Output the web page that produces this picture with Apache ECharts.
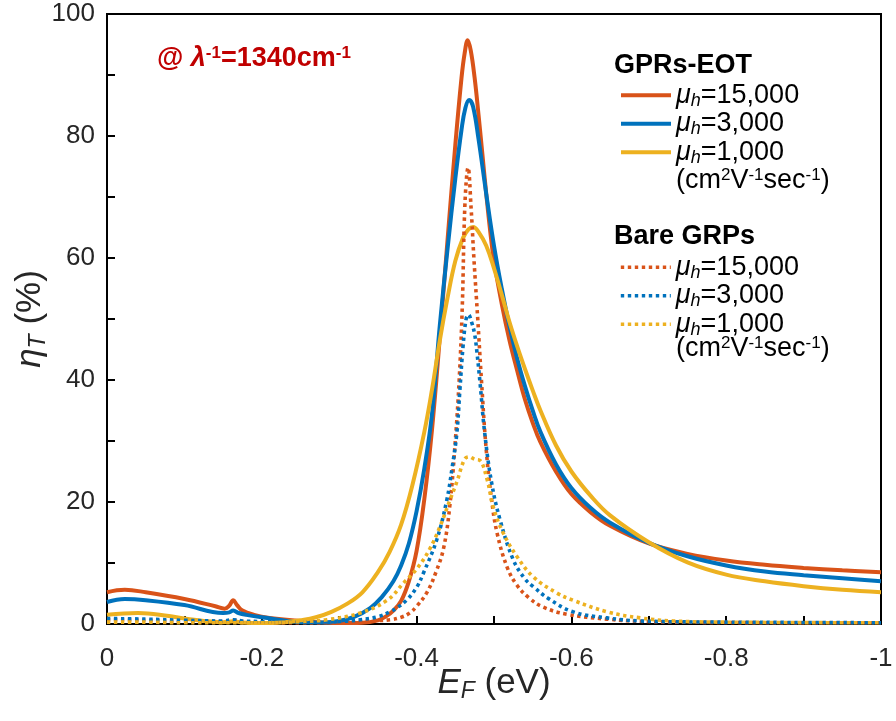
<!DOCTYPE html>
<html>
<head>
<meta charset="utf-8">
<script src="https://cdn.jsdelivr.net/npm/echarts@6/dist/echarts.min.js"></script>
<style>
html,body{margin:0;padding:0;background:#fff;}
#c{width:896px;height:721px;}
</style>
</head>
<body>
<div id="c"></div>
<script>
// ---- Data (E_F in eV, eta_T in %) ----
// GPRs-EOT, mu_h = 15,000
const eGpr15000 = [0,-0.023,-0.05,-0.1,-0.14,-0.152,-0.158,-0.163,-0.168,-0.175,-0.19,-0.21,-0.25,-0.3,-0.33,-0.35,-0.36,-0.37,-0.38,-0.39,-0.4,-0.41,-0.42,-0.43,-0.44,-0.45,-0.458,-0.462,-0.466,-0.47,-0.475,-0.48,-0.485,-0.49,-0.495,-0.5,-0.51,-0.52,-0.53,-0.54,-0.55,-0.56,-0.58,-0.6,-0.625,-0.65,-0.7,-0.75,-0.8,-0.85,-0.9,-0.95,-1];
const vGpr15000 = [5.2,5.6,5.2,4.1,2.9,2.5,3.0,3.9,3.1,2.2,1.5,1.0,0.5,0.15,0.2,0.6,1.2,2.2,3.8,7.0,12.0,20.5,32,47,63,78.5,89.5,93.5,95.7,94.0,89.5,83.5,77,70.5,64.5,59.5,52.5,46.5,41.5,36.8,33,29.8,25.0,21.3,18.3,16.1,13.2,11.5,10.4,9.7,9.2,8.8,8.5];
// GPRs-EOT, mu_h = 3,000
const eGpr3000 = [0,-0.023,-0.05,-0.1,-0.15,-0.158,-0.163,-0.17,-0.18,-0.2,-0.25,-0.28,-0.3,-0.32,-0.34,-0.355,-0.37,-0.38,-0.39,-0.4,-0.41,-0.42,-0.43,-0.44,-0.45,-0.458,-0.463,-0.468,-0.473,-0.48,-0.49,-0.5,-0.51,-0.52,-0.53,-0.54,-0.55,-0.56,-0.58,-0.6,-0.625,-0.65,-0.7,-0.75,-0.8,-0.85,-0.9,-0.95,-1];
const vGpr3000 = [3.6,4.1,3.9,3.1,1.8,1.9,2.2,1.8,1.5,1.1,0.3,0.25,0.5,1.2,2.6,4.4,7.0,9.6,13.2,18.5,25.5,34.5,49,61.5,73,81,84.6,85.9,84.8,79.5,70.5,62,55,48.8,43.5,39,35,31.5,26.2,22.3,19.0,16.6,13.3,11.1,9.6,8.6,8.0,7.5,7.0];
// GPRs-EOT, mu_h = 1,000
const eGpr1000 = [0,-0.04,-0.08,-0.1,-0.15,-0.163,-0.175,-0.2,-0.23,-0.25,-0.27,-0.29,-0.31,-0.33,-0.35,-0.365,-0.38,-0.395,-0.41,-0.42,-0.43,-0.44,-0.45,-0.46,-0.467,-0.473,-0.48,-0.49,-0.5,-0.51,-0.52,-0.53,-0.54,-0.55,-0.56,-0.58,-0.6,-0.625,-0.65,-0.7,-0.75,-0.8,-0.85,-0.9,-0.95,-1];
const vGpr1000 = [1.5,1.8,1.3,0.9,0.3,0.45,0.25,0.15,0.3,0.6,1.1,2.0,3.3,5.2,8.5,11.8,16.3,23,31.5,38.5,46.5,53.5,59.5,63.3,64.7,65.1,64.3,62,58.3,54,49.5,45.5,41.8,38.3,35,29.3,25.0,21,17.8,13.4,10.1,8.1,7.0,6.2,5.6,5.2];
// Bare GRPs, mu_h = 15,000
const eBare15000 = [0,-0.05,-0.1,-0.15,-0.163,-0.175,-0.2,-0.25,-0.3,-0.34,-0.366,-0.38,-0.391,-0.4,-0.413,-0.425,-0.435,-0.443,-0.45,-0.455,-0.459,-0.4625,-0.4665,-0.4705,-0.474,-0.479,-0.484,-0.49,-0.497,-0.504,-0.517,-0.53,-0.545,-0.563,-0.594,-0.646,-0.7,-0.8,-0.9,-1];
const vBare15000 = [0.7,0.6,0.4,0.4,0.6,0.4,0.3,0.2,0.3,0.5,0.7,1.1,1.8,2.9,5.1,8.5,12.5,19.5,30,40,52,69,74.8,68,60,50,39.5,28.5,20.3,14.9,9.3,6.3,4.3,2.8,1.6,0.8,0.4,0.25,0.2,0.2];
// Bare GRPs, mu_h = 3,000
const eBare3000 = [0,-0.05,-0.1,-0.15,-0.163,-0.175,-0.2,-0.25,-0.3,-0.327,-0.35,-0.366,-0.375,-0.387,-0.4,-0.409,-0.426,-0.439,-0.446,-0.452,-0.456,-0.46,-0.464,-0.467,-0.471,-0.475,-0.478,-0.482,-0.488,-0.497,-0.508,-0.525,-0.54,-0.551,-0.57,-0.602,-0.646,-0.689,-0.8,-0.9,-1];
const vBare3000 = [0.9,0.8,0.6,0.5,0.7,0.5,0.4,0.3,0.4,0.7,1.2,2.0,2.7,3.9,6.0,8.4,13.8,20.3,25.7,31.3,38.5,45.5,50,50.7,49.5,47.5,44.5,39.5,31.3,23.1,17.0,10.5,7.4,6.1,4.2,2.0,1.0,0.5,0.3,0.25,0.2];
// Bare GRPs, mu_h = 1,000
const eBare1000 = [0,-0.05,-0.1,-0.15,-0.2,-0.25,-0.284,-0.327,-0.362,-0.383,-0.4,-0.417,-0.43,-0.443,-0.452,-0.462,-0.468,-0.475,-0.482,-0.4913,-0.499,-0.512,-0.53,-0.551,-0.581,-0.602,-0.646,-0.689,-0.731,-0.8,-1];
const vBare1000 = [0.3,0.3,0.2,0.2,0.2,0.4,0.7,1.8,3.9,6.7,9,12.3,15.9,20.3,23.3,27,27.4,27.0,26.8,23.6,19.2,14.9,11.0,7.7,5.1,3.9,2.0,1.0,0.5,0.3,0.2];

// ---- Axis ticks & legend text ----
const xMin = -1, xMax = 0, xStep = 0.1;
const yMin = 0, yMax = 100, yStep = 10;
const legendLabels = ['15,000','3,000','1,000'];

const FONT = 'Liberation Sans, Arial, sans-serif';
const C_OR = '#D95319', C_BL = '#0072BD', C_YE = '#EDB120';

function pairs(xs, ys){ return xs.map((x,i)=>[x, ys[i]]); }

const solidW = 4, dotW = 3.6, dotType = [3.4, 3.6];
function mkSeries(name, xs, ys, color, dotted){
  return {
    type:'line', name, data: pairs(xs, ys), showSymbol:false, symbol:'none',
    smooth:0.4, animation:false,
    lineStyle:{color, width: dotted?dotW:solidW, type: dotted?dotType:'solid', cap:'butt'},
    itemStyle:{color}
  };
}

const series = [
  mkSeries('g15', eGpr15000, vGpr15000, C_OR, false),
  mkSeries('g3', eGpr3000, vGpr3000, C_BL, false),
  mkSeries('g1', eGpr1000, vGpr1000, C_YE, false),
  mkSeries('b15', eBare15000, vBare15000, C_OR, true),
  mkSeries('b3', eBare3000, vBare3000, C_BL, true),
  mkSeries('b1', eBare1000, vBare1000, C_YE, true)
];
const labelOf = {g15:legendLabels[0], g3:legendLabels[1], g1:legendLabels[2], b15:legendLabels[0], b3:legendLabels[1], b1:legendLabels[2]};

const LF = 27;
const legRich = {
  mu:{fontSize:LF, fontStyle:'italic', fontFamily:FONT, color:'#000', lineHeight:28.5},
  h:{fontSize:18, fontStyle:'italic', fontFamily:FONT, color:'#000', verticalAlign:'bottom', lineHeight:28.5},
  t:{fontSize:LF, fontFamily:FONT, color:'#000', lineHeight:28.5}
};
function legendCfg(data, top, dotted){
  return {
    data, orient:'vertical', left:619, top, padding:0, itemWidth:50, itemHeight:12, itemGap:0, selectedMode:false,
    itemStyle:{opacity:0},
    lineStyle:{width: dotted?dotW:solidW},
    formatter: n => '{mu|μ}{h|h}{t|=' + labelOf[n] + '}',
    textStyle:{fontSize:LF, fontFamily:FONT, color:'#000', lineHeight:28.5, rich:legRich}
  };
}

const supRich = {
  n:{fontSize:LF, fontFamily:FONT, color:'#000'},
  s:{fontSize:17, fontFamily:FONT, color:'#000', verticalAlign:'top', padding:[0,0,11,0]}
};
const unitText = '{n|(cm}{s|2}{n|V}{s|-1}{n|sec}{s|-1}{n|)}';

const nameRich = {
  e:{fontSize:35, fontStyle:'italic', fontFamily:FONT, color:'#262626', lineHeight:40},
  f:{fontSize:23, fontStyle:'italic', fontFamily:FONT, color:'#262626', verticalAlign:'bottom', lineHeight:40},
  u:{fontSize:35, fontFamily:FONT, color:'#262626', lineHeight:40}
};

const RED = '#C00000';
const chart = echarts.init(document.getElementById('c'), null, {renderer:'canvas'});
chart.setOption({
  animation:false,
  backgroundColor:'#fff',
  grid:{left:107, right:15, top:14, bottom:97, show:true, borderColor:'#000', borderWidth:2, containLabel:false, outerBoundsMode:'none'},
  xAxis:{
    type:'value', min:xMin, max:xMax, interval:xStep, inverse:true,
    axisLine:{show:true, onZero:false, lineStyle:{color:'#000', width:2}},
    axisTick:{show:true, inside:true, length:8, lineStyle:{color:'#000', width:2}},
    splitLine:{show:false},
    axisLabel:{
      fontSize:26, fontFamily:FONT, color:'#262626', margin:22,
      formatter: v => { const k = Math.round(v*10); if (k % 2 !== 0) return ''; const r = k/10; return r===0?'0':String(r); }
    },
    name:'{e|E}{f|F}{u| (eV)}', nameLocation:'middle', nameGap:39, nameMoveOverlap:false,
    nameTextStyle:{rich:nameRich}
  },
  yAxis:{
    type:'value', min:yMin, max:yMax, interval:yStep,
    axisLine:{show:true, onZero:false, lineStyle:{color:'#000', width:2}},
    axisTick:{show:true, inside:true, length:8, lineStyle:{color:'#000', width:2}},
    splitLine:{show:false},
    axisLabel:{
      fontSize:26, fontFamily:FONT, color:'#262626', margin:12,
      formatter: v => (Math.round(v) % 20 === 0 ? String(Math.round(v)) : '')
    },
    name:'{e|η}{f|T}{u| (%)}', nameLocation:'middle', nameGap:57, nameRotate:90, nameMoveOverlap:false,
    nameTextStyle:{rich:nameRich}
  },
  legend:[legendCfg(['g15','g3','g1'], 81, false), legendCfg(['b15','b3','b1'], 253, true)],
  graphic:[
    {type:'text', left:157, top:45, style:{
      text:'{a|@ }{l|λ}{s|-1}{a|=1340cm}{s|-1}',
      rich:{
        a:{fontSize:27, fontWeight:'bold', fontFamily:FONT, fill:RED, color:RED},
        l:{fontSize:27, fontWeight:'bold', fontStyle:'italic', fontFamily:FONT, fill:RED, color:RED},
        s:{fontSize:17, fontWeight:'bold', fontFamily:FONT, fill:RED, color:RED, verticalAlign:'top', padding:[0,0,11,0]}
      }
    }},
    {type:'text', left:614, top:52, style:{text:'GPRs-EOT', font:'bold 27px '+FONT, fill:'#000'}},
    {type:'text', left:676, top:167, style:{text:unitText, rich:supRich}},
    {type:'text', left:614, top:223, style:{text:'Bare GRPs', font:'bold 27px '+FONT, fill:'#000'}},
    {type:'text', left:676, top:335, style:{text:unitText, rich:supRich}}
  ],
  series
});
</script>
</body>
</html>
